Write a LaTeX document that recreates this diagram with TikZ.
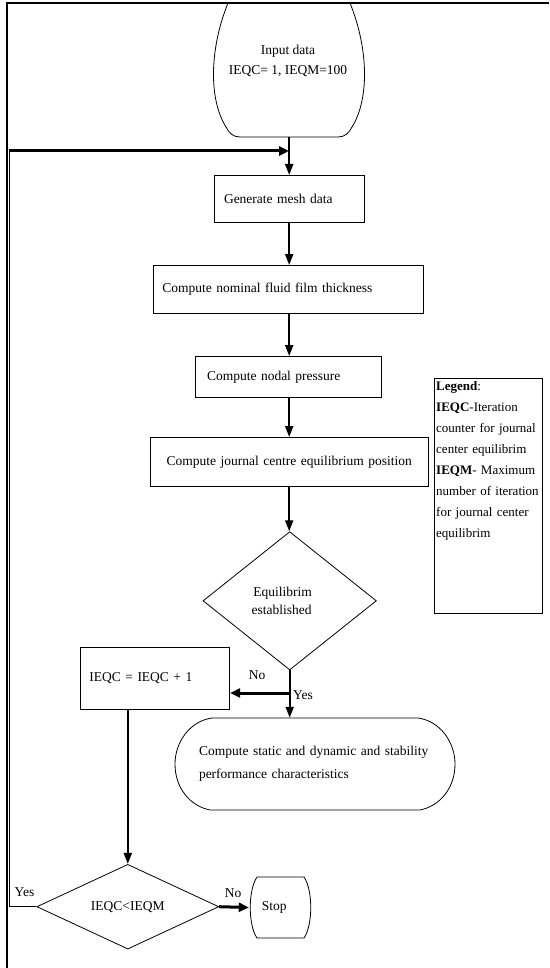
\documentclass[tikz,border=0pt]{standalone}
\usepackage{fontspec}
\setmainfont{Liberation Serif}
\usetikzlibrary{arrows.meta,shapes.geometric}
\begin{document}
\begin{tikzpicture}[x=1pt,y=-1pt,
  box/.style={draw,line width=0.8pt,inner sep=0pt},
  outline/.style={line width=0.8pt},
  flow/.style={line width=2pt,-{Triangle[length=11pt,width=8pt]}},
  boldflow/.style={line width=3pt,-{Triangle[length=10pt,width=9pt]}},
  thinline/.style={line width=1pt},
  lbl/.style={inner sep=0pt},
  font=\fontsize{13.5}{16}\selectfont]
\useasboundingbox (0,0) rectangle (549,968);
% frame
\draw[line width=2pt] (6.7,968) -- (6.7,3.3) -- (549,3.3);

% input
\node[inner sep=0pt, minimum width=150pt, minimum height=152pt, align=center,
      font=\fontsize{13.5}{20}\selectfont] (input) at (288,61) {Input data\\IEQC= 1, IEQM=100};
\draw[outline] (228,3) .. controls (209,50) and (209,100) .. (226,127)
  .. controls (229,133) and (233,137) .. (240,137) -- (338,137)
  .. controls (345,137) and (349,133) .. (352,127)
  .. controls (369,100) and (369,50) .. (350,3);

% process boxes
\node[box, anchor=north west, minimum width=150.4pt, minimum height=47pt,
      inner xsep=10pt, text width=130.4pt, align=left] (gen) at (213.6,175) {Generate mesh data};
\node[box, anchor=north west, minimum width=269.6pt, minimum height=47.7pt,
      inner xsep=9pt, text width=251.6pt, align=left] (nominal) at (153,265) {Compute nominal fluid film thickness};
\node[box, anchor=north west, minimum width=185.6pt, minimum height=41pt,
      inner xsep=11.6pt, text width=162.4pt, align=left] (nodal) at (195,356) {Compute nodal pressure};
\node[box, anchor=north west, minimum width=278.5pt, minimum height=49pt,
      text width=278.5pt, align=center] (journal) at (149.5,437) {Compute journal centre equilibrium position};

% legend
\node[box, anchor=north west, minimum width=108pt, minimum height=235pt] (legend) at (434,378) {};
\node[anchor=north west, inner sep=0pt, text width=105pt, align=left,
      font=\fontsize{13}{21}\selectfont] (legendtext) at (436,381)
 {\textbf{Legend}:\\
  \textbf{IEQC}-Iteration\\
  \makebox[105pt][s]{counter for journal}\\
  center equilibrim\\
  \makebox[105pt][s]{\textbf{IEQM}- Maximum}\\
  \makebox[105pt][s]{number of iteration}\\
  \makebox[105pt][s]{for journal center}\\
  equilibrim};

% decision 1
\node[draw, diamond, line width=0.8pt, minimum width=173.4pt, minimum height=138.3pt,
      inner sep=0pt, align=center, font=\fontsize{13.5}{18}\selectfont] (d1) at (289.7,600.8)
      {\hspace*{-14pt}Equilibrim\\\hspace*{-16pt}established};

% IEQC box
\node[box, anchor=north west, minimum width=149.5pt, minimum height=62.3pt,
      inner xsep=9.2pt, text width=131.1pt, align=left] (ieqc) at (79.8,646.7) {IEQC = IEQC + 1};

% static
\node[inner sep=0pt, minimum width=280pt, minimum height=92pt, text width=232pt, align=left,
      font=\fontsize{13.5}{23}\selectfont] (static) at (315,764)
      {\makebox[232pt][s]{Compute static and dynamic and stability}\\performance characteristics};
\draw[outline] (212,718) -- (418,718) .. controls (440,721) and (455,742) .. (455,764)
  .. controls (455,788) and (440,806) .. (420,810) -- (210,810)
  .. controls (190,806) and (175,788) .. (175,764)
  .. controls (175,742) and (190,721) .. (212,718) -- cycle;

% decision 2
\node[draw, diamond, line width=0.8pt, minimum width=182pt, minimum height=83.3pt,
      inner sep=0pt] (d2) at (127.8,906.7) {IEQC<IEQM};

% stop
\node[inner sep=0pt, minimum width=62.6pt, minimum height=61.6pt] (stop) at (280.3,907.5) {\hspace*{-12pt}Stop};
\draw[outline] (257,877) -- (304,877) .. controls (313,890) and (313,925) .. (304,938)
  -- (257,938) .. controls (248,925) and (248,890) .. (257,877) -- cycle;

% connectors
\coordinate (fb) at (289,151);
\coordinate (rt) at (9.3,151);
\coordinate (rb) at (9.3,906.7);
\coordinate (nob) at (289.7,693);

\draw[flow] (input.south -| gen.south) -- (gen.north);
\draw[flow] (gen.south) -- (nominal.north -| gen.south);
\draw[flow] (nominal.south -| gen.south) -- (nodal.north -| gen.south);
\draw[flow] (nodal.south -| gen.south) -- (journal.north -| gen.south);
\draw[flow] (journal.south -| gen.south) -- (d1.north -| gen.south);
\draw[flow] (d1.south) -- (d1.south |- static.north);
\draw[boldflow] (nob) -- (nob -| ieqc.east);
\draw[flow] (d2.north |- ieqc.south) -- (d2.north);
\draw[boldflow] (d2.east) -- (stop.west);
\draw[thinline] (d2.west) -- (rb) -- (rt);
\draw[boldflow] (rt) -- (fb);

% labels
\node[lbl] (no1) at (257,675) {No};
\node[lbl] (yes1) at (303,695) {Yes};
\node[lbl] (no2) at (233,893) {No};
\node[lbl] (yes2) at (24.5,892) {Yes};
\end{tikzpicture}
\end{document}
